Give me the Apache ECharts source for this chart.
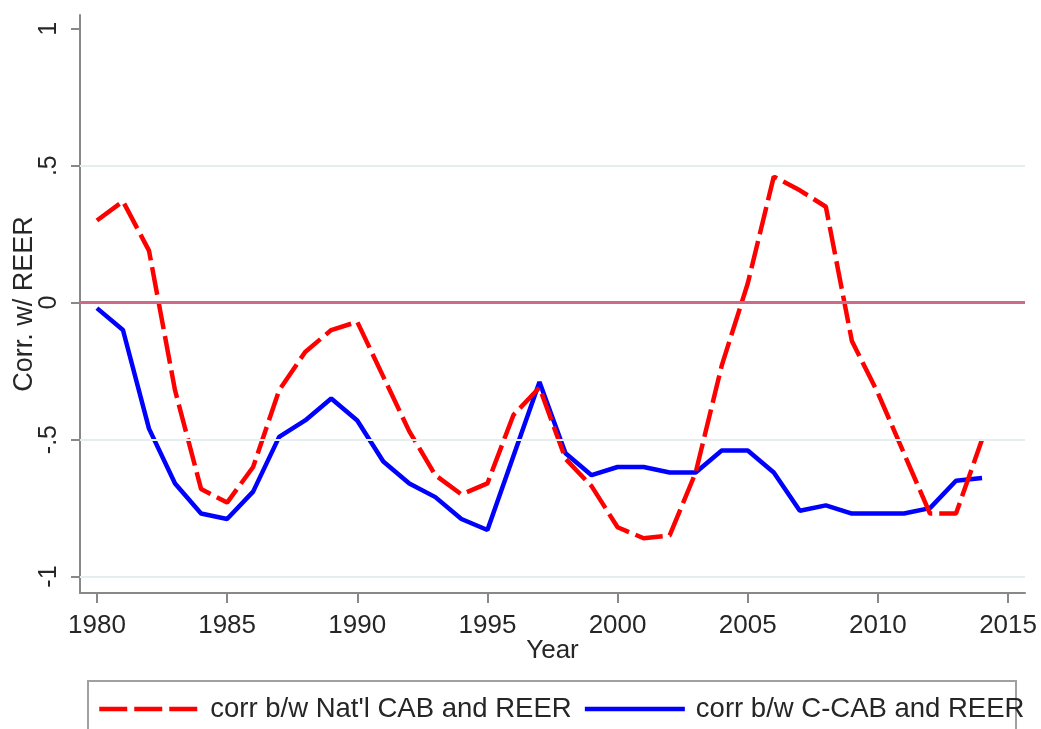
<!DOCTYPE html>
<html>
<head>
<meta charset="utf-8">
<script src="https://cdn.jsdelivr.net/npm/echarts@6/dist/echarts.min.js"></script>
<style>
  html, body { margin: 0; padding: 0; background: #fff; }
  #chart { width: 1041px; height: 729px; }
</style>
</head>
<body>
<div id="chart"></div>
<script>
const years = [1980, 1981, 1982, 1983, 1984, 1985, 1986, 1987, 1988, 1989,
  1990, 1991, 1992, 1993, 1994, 1995, 1996, 1997, 1998, 1999,
  2000, 2001, 2002, 2003, 2004, 2005, 2006, 2007, 2008, 2009,
  2010, 2011, 2012, 2013, 2014]

// corr b/w Nat'l CAB and REER
const natlCab = [0.30, 0.37, 0.19, -0.32, -0.68, -0.73, -0.60, -0.32, -0.18, -0.10,
  -0.07, -0.27, -0.47, -0.63, -0.70, -0.66, -0.41, -0.31, -0.57, -0.67,
  -0.82, -0.86, -0.85, -0.62, -0.23, 0.07, 0.46, 0.41, 0.35, -0.14,
  -0.33, -0.55, -0.77, -0.77, -0.50]

// corr b/w C-CAB and REER
const cCab = [-0.02, -0.10, -0.46, -0.66, -0.77, -0.79, -0.69, -0.49, -0.43, -0.35,
  -0.43, -0.58, -0.66, -0.71, -0.79, -0.83, -0.56, -0.29, -0.55, -0.63,
  -0.60, -0.60, -0.62, -0.62, -0.54, -0.54, -0.62, -0.76, -0.74, -0.77,
  -0.77, -0.77, -0.75, -0.65, -0.64]

const xTicks = [1980, 1985, 1990, 1995, 2000, 2005, 2010, 2015]
const yTicks = [-1, -0.5, 0, 0.5, 1]
const yTickLabels = ['-1', '-.5', '0', '.5', '1']
const gridLines = [-1, -0.5, 0.5]

const font = 'Liberation Sans, Arial, sans-serif'
const textColor = '#262626'
const chart = echarts.init(document.getElementById('chart'))

chart.setOption({
  animation: false,
  backgroundColor: '#fff',
  grid: { left: 80, right: 16, top: 15, bottom: 136, containLabel: false, outerBoundsMode: 'none' },
  xAxis: {
    type: 'value',
    min: 1979.35,
    max: 2015.65,
    name: 'Year',
    nameLocation: 'middle',
    nameGap: 45,
    nameMoveOverlap: false,
    nameTextStyle: { fontFamily: font, fontSize: 26, color: textColor },
    axisLine: { onZero: false, lineStyle: { color: '#888', width: 2 } },
    axisTick: { customValues: xTicks, length: 10, lineStyle: { color: '#888', width: 2 } },
    axisLabel: {
      customValues: xTicks,
      margin: 20,
      fontFamily: font,
      fontSize: 26,
      color: textColor,
      formatter: v => String(v)
    },
    splitLine: { show: false }
  },
  yAxis: {
    type: 'value',
    min: -1.06,
    max: 1.05,
    name: 'Corr. w/ REER',
    nameLocation: 'middle',
    nameGap: 42,
    nameMoveOverlap: false,
    nameTextStyle: { fontFamily: font, fontSize: 27, color: textColor },
    axisLine: { show: true, onZero: false, lineStyle: { color: '#888', width: 2 } },
    axisTick: { show: true, customValues: yTicks, length: 9, lineStyle: { color: '#888', width: 2 } },
    axisLabel: {
      customValues: yTicks,
      rotate: 90,
      margin: 18,
      fontFamily: font,
      fontSize: 25,
      color: textColor,
      formatter: v => yTickLabels[yTicks.indexOf(Math.round(v * 10) / 10)]
    },
    splitLine: { show: false }
  },
  legend: {
    data: ["corr b/w Nat'l CAB and REER", 'corr b/w C-CAB and REER'],
    left: 92,
    top: 690,
    itemWidth: 100,
    itemHeight: 14,
    itemGap: 11,
    itemStyle: { opacity: 0 },
    lineStyle: { width: 4.5 },
    textStyle: { fontFamily: font, fontSize: 27.5, color: textColor, padding: [0, 0, 0, 6] }
  },
  graphic: [{
    type: 'rect',
    shape: { x: 88, y: 681, width: 928, height: 70 },
    style: { fill: 'none', stroke: '#a0a0a0', lineWidth: 2 },
    silent: true
  }],
  series: [
    {
      name: 'refs',
      type: 'line',
      data: [],
      z: 1,
      silent: true,
      markLine: {
        silent: true,
        symbol: 'none',
        label: { show: false },
        data: gridLines.map(v => ({ yAxis: v, lineStyle: { color: '#e4eeee', width: 2, type: 'solid' } }))
          .concat([{ yAxis: 0, lineStyle: { color: '#cc6a88', width: 3, type: 'solid' } }])
      }
    },
    {
      name: "corr b/w Nat'l CAB and REER",
      type: 'line',
      z: 3,
      data: years.map((y, i) => [y, natlCab[i]]),
      symbol: 'none',
      lineStyle: { color: '#ff0000', width: 4.5, type: [28, 7] },
      itemStyle: { color: '#ff0000' }
    },
    {
      name: 'corr b/w C-CAB and REER',
      type: 'line',
      z: 2,
      data: years.map((y, i) => [y, cCab[i]]),
      symbol: 'none',
      lineStyle: { color: '#0000ff', width: 4.5 },
      itemStyle: { color: '#0000ff' }
    }
  ]
})
</script>
</body>
</html>
